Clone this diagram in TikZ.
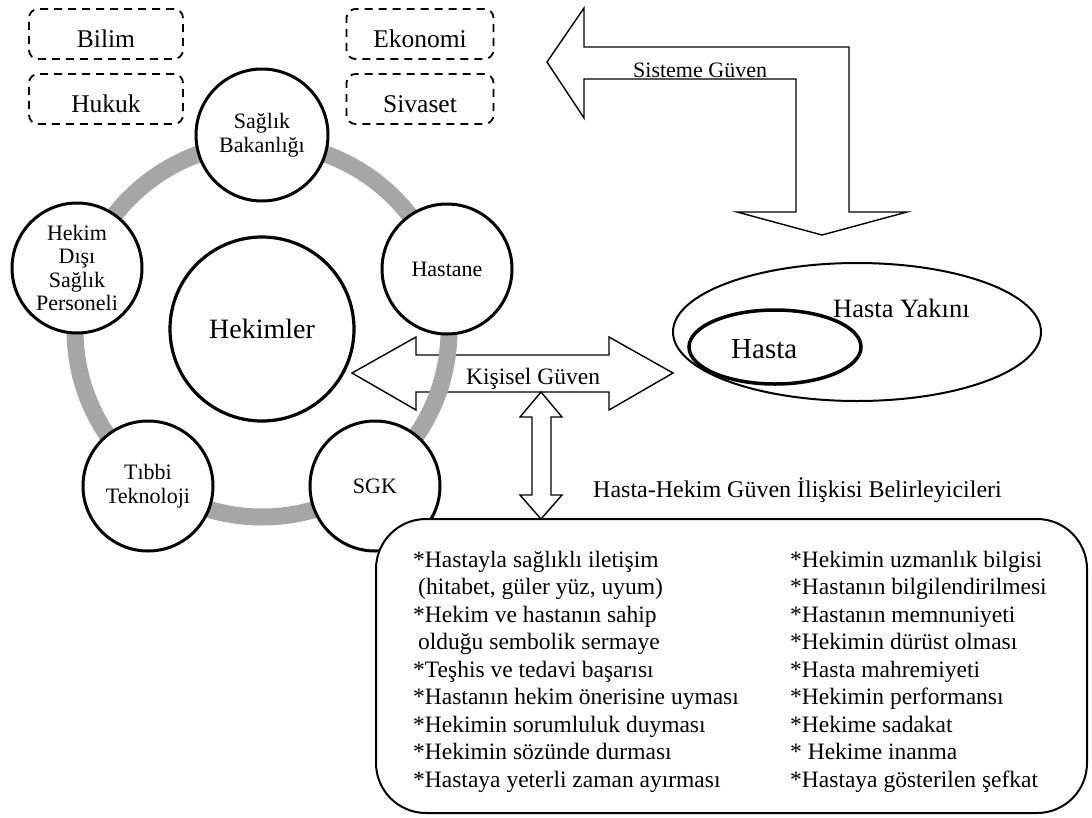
\documentclass[tikz,border=0pt]{standalone}
\usepackage{fontspec}
\setmainfont{Liberation Serif}
\usetikzlibrary{shapes.geometric}
\definecolor{ringGray}{HTML}{A6A6A6}

\begin{document}
\begin{tikzpicture}[x=1pt, y=-1pt,
  actor/.style={circle, draw, line width=3pt, fill=white, minimum size=130pt, inner sep=0pt, align=center, font=\fontsize{22}{23.5}\selectfont},
  field/.style={draw, line width=1.8pt, dash pattern=on 8pt off 6pt, rounded corners=9pt, minimum width=154pt, minimum height=50pt, text height=26pt, text depth=0pt, inner sep=0pt, font=\fontsize{25.5}{28}\selectfont},
  blockarrow/.style={draw, line width=1.4pt, fill=white, line join=miter},
  arrowtext/.style={anchor=base west, inner sep=0pt, font=\fontsize{23.5}{27}\selectfont},
  listitem/.style={anchor=base west, inner sep=0pt, font=\fontsize{23.5}{27.5}\selectfont}]
  \useasboundingbox (0,0) rectangle (1092,817);

  % Outer fields
  \node[field] (bilim) at (106,34) {Bilim};
  \node[field] (hukuk) at (106,99) {Hukuk};
  \node[field, minimum width=147pt] (ekonomi) at (420,34) {Ekonomi};
  \node[field, minimum width=147pt] (siyaset) at (420,99) {Sivaset};

  % Trust in the system
  \draw[blockarrow] (547,62) -- (584,8) -- (584,47) -- (849,47) -- (849,212) -- (907,212)
    -- (822,235) -- (737,212) -- (796,212) -- (796,79) -- (584,79) -- (584,118) -- cycle;
  \node[arrowtext, font=\fontsize{22}{24}\selectfont] (sistem) at (633,77) {Sisteme Güven};

  % Personal trust
  \draw[blockarrow] (352,373) -- (416,337) -- (416,355) -- (609,355) -- (609,337) -- (673,373)
    -- (609,410) -- (609,392) -- (416,392) -- (416,410) -- cycle;
  \node[arrowtext] (kisisel) at (466,384) {Kişisel Güven};

  % Ring of actors
  \draw[ringGray, line width=17pt] (262,330) circle[radius=187pt];
  \node[actor, minimum size=132pt] (bakanlik) at (262,135) {Sağlık\\Bakanlığı};
  \node[actor] (personel) at (77,268) {Hekim\\Dışı\\Sağlık\\Personeli};
  \node[actor] (hastane) at (447,269) {Hastane};
  \node[actor] (teknoloji) at (148,486) {Tıbbi\\Teknoloji};
  \node[actor] (sgk) at (375,486) {SGK};
  \node[actor, minimum size=184pt, line width=3.2pt, font=\fontsize{28}{30}\selectfont] (hekimler) at (262,329) {Hekimler};

  % Patient side
  \node[ellipse, draw, line width=2pt, minimum width=368pt, minimum height=138pt, inner sep=0pt] (yakin) at (857,332) {};
  \node[ellipse, draw, line width=3.5pt, minimum width=172pt, minimum height=74pt, inner sep=0pt] (hasta) at (775,347) {};
  \node[arrowtext, font=\fontsize{26.5}{28}\selectfont] (yakintext) at (833,317) {Hasta Yakını};
  \node[arrowtext, font=\fontsize{29}{30}\selectfont] (hastatext) at (731,358) {Hasta};

  % Determinants
  \draw[blockarrow] (541,392) -- (562,417) -- (551,417) -- (551,495) -- (562,495) -- (541,519)
    -- (520,495) -- (532,495) -- (532,417) -- (520,417) -- cycle;
  \node[arrowtext, font=\fontsize{24}{26}\selectfont] (baslik) at (593,497) {Hasta-Hekim Güven İlişkisi Belirleyicileri};
  \node[draw, line width=2pt, rounded corners=50pt, fill=white, minimum width=711pt, minimum height=294pt] (factors) at (731.5,666) {};

  \foreach \entry [count=\i] in {*Hastayla sağlıklı iletişim, {\hspace{5pt}(hitabet, güler yüz, uyum)},
      *Hekim ve hastanın sahip, \hspace{5pt}olduğu sembolik sermaye, *Teşhis ve tedavi başarısı,
      *Hastanın hekim önerisine uyması, *Hekimin sorumluluk duyması, *Hekimin sözünde durması,
      *Hastaya yeterli zaman ayırması}
    \node[listitem] (left\i) at (413,{539.5+27.5*\i}) {\entry};
  \foreach \entry [count=\i] in {*Hekimin uzmanlık bilgisi, *Hastanın bilgilendirilmesi,
      *Hastanın memnuniyeti, *Hekimin dürüst olması, *Hasta mahremiyeti, *Hekimin performansı,
      *Hekime sadakat, * Hekime inanma, *Hastaya gösterilen şefkat}
    \node[listitem] (right\i) at (790,{539.5+27.5*\i}) {\entry};
\end{tikzpicture}
\end{document}
